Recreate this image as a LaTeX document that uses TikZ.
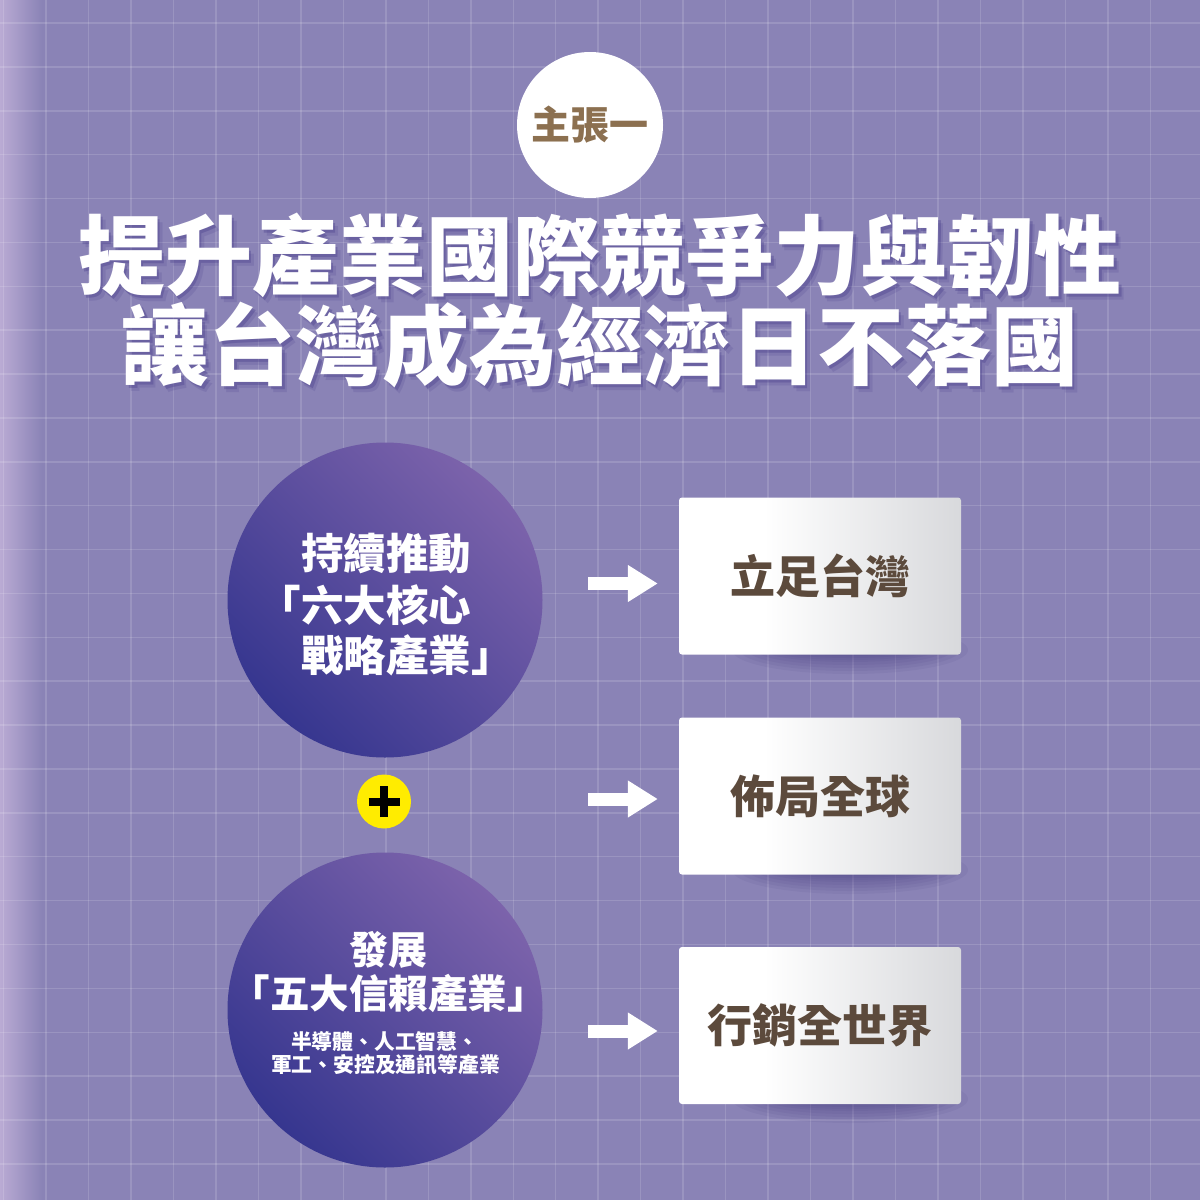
\documentclass[tikz,border=0pt]{standalone}
\usepackage{fontspec}
\newfontfamily\cjkb{Noto Sans CJK TC Black}
\usetikzlibrary{arrows.meta,calc}
\definecolor{bgc}{HTML}{8A83B6}
\definecolor{bandc}{HTML}{BAABD4}
\definecolor{circtop}{HTML}{7C63AB}
\definecolor{circbot}{HTML}{36368F}
\definecolor{badgetext}{HTML}{8C7050}
\definecolor{boxtext}{HTML}{5C4A3C}
\definecolor{tshadow}{HTML}{3C3183}
\definecolor{bshadow}{HTML}{3A2F78}
\definecolor{boxgray}{HTML}{D8D9DC}
\definecolor{plusyellow}{HTML}{FFEC00}
\pgfdeclarehorizontalshading{boxshade}{100bp}{color(0bp)=(white); color(25bp)=(white); color(40bp)=(white); color(75bp)=(boxgray); color(100bp)=(boxgray)}
\tikzset{
  txt/.style={inner sep=0pt, outer sep=0pt, font=\cjkb},
  titletxt/.style={txt, text=white, font=\cjkb\fontsize{87}{87}\selectfont},
  titleshadow/.style={txt, text=tshadow, font=\cjkb\fontsize{87}{87}\selectfont},
  bigcircle/.style={circle, minimum size=315pt, inner sep=0pt, top color=circtop, bottom color=circbot, shading angle=-45},
  circtxt/.style={txt, text=white},
  infobox/.style={rectangle, rounded corners=3pt, minimum width=282pt, minimum height=157pt, inner sep=0pt, shading=boxshade, text=boxtext, font=\cjkb\fontsize{45}{45}\selectfont},
  boxshadowlayer/.style={bshadow, opacity=0.07},
  bigarrow/.style={white, line width=13pt, -{Triangle[length=30pt,width=35pt]}},
  gridline/.style={white, opacity=0.14, line width=1.5pt}
}
\begin{document}
\begin{tikzpicture}[x=1pt,y=-1pt]
\useasboundingbox (0,0) rectangle (1200,1200);
% background
\fill[bgc] (0,0) rectangle (1200,1200);
\shade[left color=bandc, right color=bgc] (0,0) rectangle (42,1200);
\foreach \k in {0,...,27} {\draw[gridline] ({3.5+42.48*\k},0) -- ({3.5+42.48*\k},1200);}
\foreach \k in {0,...,26} {\draw[gridline] (0,{23+43.88*\k}) -- (1200,{23+43.88*\k});}
% badge
\node[circle, fill=white, minimum size=146pt, inner sep=0pt, text=badgetext, font=\cjkb\fontsize{39}{39}\selectfont] (badge) at (590,125) {主張一};
% title
\foreach \dx/\dy/\op [count=\i] in {5/6/0.15, 2.5/3.5/0.3} {
  \node[titleshadow, opacity=\op] (ts1\i) at (600+\dx,255+\dy) {提升產業國際競爭力與韌性};
  \node[titleshadow, opacity=\op] (ts2\i) at (600+\dx,345+\dy) {讓台灣成為經濟日不落國};
}
\node[titletxt] (t1) at (600,255) {提升產業國際競爭力與韌性};
\node[titletxt] (t2) at (600,345) {讓台灣成為經濟日不落國};
% circles
\node[bigcircle] (c1) at (385,600) {};
\node[circtxt, anchor=west, font=\cjkb\fontsize{42.5}{42.5}\selectfont] (c1l1) at (301,553) {持續推動};
\node[circtxt, anchor=west, font=\cjkb\fontsize{42.5}{42.5}\selectfont] (c1l2) at (258.5,605) {「六大核心};
\node[circtxt, anchor=west, font=\cjkb\fontsize{42.5}{42.5}\selectfont] (c1l3) at (301,655) {戰略產業」};
\node[bigcircle] (c2) at (385,1010) {};
\node[circtxt, font=\cjkb\fontsize{39}{39}\selectfont] (c2l1) at (388,950) {發展};
\node[circtxt, anchor=west, font=\cjkb\fontsize{39.5}{39.5}\selectfont] (c2l2) at (230.5,993) {「五大信賴產業」};
\node[circtxt, anchor=west, font=\cjkb\fontsize{20.8}{20.8}\selectfont] (c2l3) at (291,1042) {半導體、人工智慧、};
\node[circtxt, anchor=west, font=\cjkb\fontsize{20.8}{20.8}\selectfont] (c2l4) at (271,1065) {軍工、安控及通訊等產業};
% plus
\node[circle, fill=plusyellow, minimum size=54pt, inner sep=0pt] (plus) at (384,801.5) {};
\draw[black, line width=8pt] ([xshift=-15.5pt]plus.center) -- ([xshift=15.5pt]plus.center);
\draw[black, line width=8pt] ([yshift=-15.5pt]plus.center) -- ([yshift=15.5pt]plus.center);
% box shadows
\foreach \cy in {650,870,1099} {
  \foreach \rx/\ry in {118/24, 110/21, 102/18, 94/15, 86/12, 78/10, 70/8, 62/6} {
    \fill[boxshadowlayer] (850,\cy) ellipse ({\rx} and {\ry});
  }
}
% boxes
\node[infobox] (b1) at (820,576) {立足台灣};
\node[infobox] (b2) at (820,796) {佈局全球};
\node[infobox] (b3) at (820,1025.5) {行銷全世界};
% arrows
\coordinate (a1) at (588,583.5);
\coordinate (a2) at (588,799);
\coordinate (a3) at (588,1031);
\draw[bigarrow, shorten >=21pt] (a1) -- (a1 -| b1.west);
\draw[bigarrow, shorten >=21pt] (a2) -- (a2 -| b2.west);
\draw[bigarrow, shorten >=21pt] (a3) -- (a3 -| b3.west);
\end{tikzpicture}
\end{document}
